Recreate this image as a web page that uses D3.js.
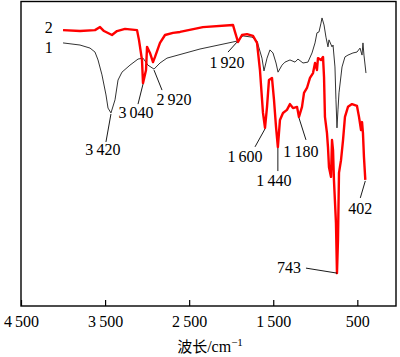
<!DOCTYPE html>
<html>
<head>
<meta charset="utf-8">
<script src="https://cdn.jsdelivr.net/npm/d3@7"></script>
<style>
  body { margin: 0; background: #fff; }
  #grafico text { font-family: 'Liberation Serif', 'Times New Roman', 'DejaVu Serif', serif; font-size: 16px; fill: #000; }
</style>
</head>
<body>
<svg id="grafico" width="400" height="357"></svg>
<script>
// ===== DATOS =====
// curva 1 (negra): número de onda (cm-1) y transmitancia relativa
const onda1 = [4000, 3798, 3679, 3620, 3584, 3537, 3489, 3465, 3430, 3382, 3346, 3299, 3204, 3108, 3049,
  2990, 2918, 2847, 2764, 2371, 1979, 1931, 1860, 1753, 1693, 1634, 1610, 1574, 1539, 1503, 1467, 1443,
  1396, 1360, 1301, 1241, 1206, 1146, 1087, 1039, 1003, 980, 956, 932, 920, 896, 873, 849, 837, 801, 789,
  766, 754, 742, 730, 718, 682, 647, 611, 552, 504, 468, 444, 433, 421, 397];
const trans1 = [86.4, 85.7, 84.7, 83.4, 80.8, 75.9, 69.3, 65.0, 63.4, 67.7, 74.2, 76.8, 79.1, 81.1, 81.4,
  79.1, 77.8, 79.8, 81.4, 84.4, 86.7, 87.0, 88.7, 88.3, 87.0, 81.4, 77.2, 81.4, 84.1, 83.1, 79.8, 76.8,
  79.1, 80.1, 80.8, 80.1, 81.1, 79.8, 80.1, 83.1, 86.4, 89.7, 90.0, 92.9, 94.6, 92.3, 88.3, 85.1, 87.4, 85.1, 85.7,
  78.5, 67.7, 58.5, 64.4, 70.0, 78.5, 81.8, 82.4, 83.1, 83.4, 84.7, 82.4, 86.4, 82.4, 76.5];

// curva 2 (roja)
const onda2 = [4000, 3798, 3620, 3560, 3513, 3418, 3358, 3263, 3120, 3097, 3061, 3049, 3013, 3001, 2966,
  2930, 2906, 2847, 2787, 2692, 2609, 2336, 1979, 1955, 1919, 1872, 1812, 1741, 1693, 1658, 1622, 1598,
  1574, 1551, 1515, 1491, 1467, 1445, 1420, 1384, 1337, 1301, 1265, 1217, 1194, 1158, 1134, 1099, 1063,
  1027, 1003, 980, 968, 932, 908, 896, 885, 861, 849, 837, 813, 801, 789, 778, 754, 742, 730, 718, 694,
  670, 647, 611, 563, 504, 480, 456, 444, 433, 421, 405];
const trans2 = [90.6, 90.3, 90.6, 91.6, 90.3, 89.0, 90.3, 91.0, 90.6, 87.4, 80.8, 73.2, 77.5, 85.1, 83.1,
  80.1, 81.8, 86.4, 89.0, 89.7, 90.0, 91.6, 92.3, 90.0, 86.7, 89.0, 89.3, 88.7, 86.4, 77.5, 63.4, 58.5,
  65.4, 74.2, 74.9, 67.7, 58.8, 52.2, 61.1, 63.4, 64.4, 66.3, 65.0, 65.4, 62.1, 65.4, 70.0, 71.6, 74.9,
  76.5, 79.8, 77.5, 81.4, 80.8, 81.8, 75.2, 62.1, 56.8, 52.2, 45.6, 42.4, 54.5, 51.2, 41.4, 27.3, 10.8, 21.7, 43.7, 47.9,
  54.5, 62.1, 65.4, 66.3, 65.7, 62.1, 57.8, 60.4, 56.8, 48.9, 41.4];

const ticksX = [4500, 3500, 2500, 1500, 500];
const nombres = ["1", "2"];

// anotaciones
const etiquetas = ["3\u2009420", "3\u2009040", "2\u2009920", "1\u2009920", "1\u2009600", "1\u2009440", "1\u2009180", "743", "402"];

// ===== ESCALAS =====
const svg = d3.select("#grafico");
const margen = { izq: 21, der: 396, arr: 1.5, aba: 306 };

const x = d3.scaleLinear().domain([4500, 40]).range([margen.izq, margen.der]);
const y = d3.scaleLinear().domain([0, 100]).range([margen.aba, margen.arr]);

// ===== MARCO Y EJE =====
svg.append("rect")
  .attr("x", margen.izq)
  .attr("y", margen.arr)
  .attr("width", margen.der - margen.izq)
  .attr("height", margen.aba - margen.arr)
  .attr("fill", "none")
  .attr("stroke", "#000")
  .attr("stroke-width", 1.4);

const ejeX = d3.axisBottom(x)
  .tickValues(ticksX)
  .tickSizeInner(-6)
  .tickSizeOuter(0)
  .tickPadding(10)
  .tickFormat(d => d3.format(",")(d).replace(",", "\u2009"));

const gx = svg.append("g")
  .attr("transform", `translate(0,${margen.aba})`)
  .call(ejeX);
gx.attr("font-family", null).attr("font-size", null);
gx.select(".domain").remove();
gx.selectAll("line").attr("stroke", "#000").attr("stroke-width", 1.2);
gx.selectAll("text").attr("fill", "#000");

svg.append("text")
  .attr("x", 210)
  .attr("y", 352)
  .attr("text-anchor", "middle")
  .html('<tspan style="font-family:\'Noto Sans CJK SC\';font-size:15px">波长</tspan>/cm<tspan dy="-6" style="font-size:11px">\u22121</tspan>');

// ===== CURVAS =====
const linea = d3.line().x(d => x(d[0])).y(d => y(d[1]));

svg.append("path")
  .datum(d3.zip(onda1, trans1))
  .attr("d", linea)
  .attr("fill", "none")
  .attr("stroke", "#333")
  .attr("stroke-width", 1);

svg.append("path")
  .datum(d3.zip(onda2, trans2))
  .attr("d", linea)
  .attr("fill", "none")
  .attr("stroke", "#ff0000")
  .attr("stroke-width", 2.4)
  .attr("stroke-linejoin", "round");

// nombres de curvas
svg.append("text").attr("x", x(4170)).attr("y", y(trans1[0]) + 10).attr("text-anchor", "middle").text(nombres[0]);
svg.append("text").attr("x", x(4170)).attr("y", y(trans2[0]) + 3).attr("text-anchor", "middle").text(nombres[1]);

// ===== ANOTACIONES =====
// pico, extremo de la línea guía y posición del texto (relativos al pico)
const picos = [
  { w: 3430, t: 63.4, l: [-5, 29], tx: [-8, 42], anc: "middle" },
  { w: 3049, t: 73.2, l: [-5, 21], tx: [-7, 35], anc: "middle" },
  { w: 2918, t: 77.8, l: [8, 21], tx: [20, 36], anc: "middle" },
  { w: 1931, t: 87.0, l: [-9, 11], tx: [-10, 27], anc: "middle" },
  { w: 1598, t: 58.5, l: [-10, 19], tx: [-20, 34], anc: "middle" },
  { w: 1445, t: 52.2, l: [0, 24], tx: [-4, 39], anc: "middle" },
  { w: 1194, t: 62.1, l: [7, 23], tx: [2, 40], anc: "middle" },
  { w: 742, t: 10.8, l: [-31, -5], tx: [-36, 0], anc: "end" },
  { w: 405, t: 41.4, l: [-5, 18], tx: [-5, 34], anc: "middle" }
];

picos.forEach((p, i) => {
  const px = x(p.w), py = y(p.t);
  svg.append("line")
    .attr("x1", px).attr("y1", py + (i === 7 ? 0 : 1))
    .attr("x2", px + p.l[0]).attr("y2", py + p.l[1])
    .attr("stroke", "#000")
    .attr("stroke-width", 0.9);
  svg.append("text")
    .attr("x", px + p.tx[0])
    .attr("y", py + p.tx[1])
    .attr("text-anchor", p.anc)
    .text(etiquetas[i]);
});
</script>
</body>
</html>
